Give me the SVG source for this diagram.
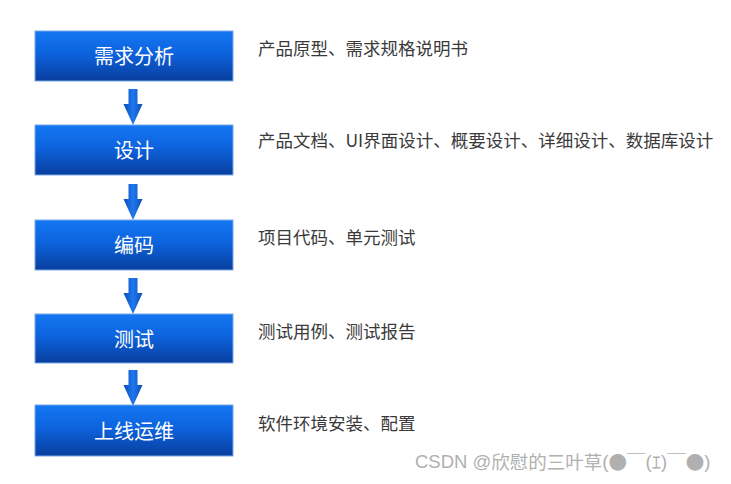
<svg xmlns="http://www.w3.org/2000/svg" width="731" height="484" viewBox="0 0 731 484">
<defs>
<linearGradient id="boxg" x1="0" y1="0" x2="0" y2="1">
<stop offset="0" stop-color="#1577f2"/>
<stop offset="0.45" stop-color="#0d63de"/>
<stop offset="1" stop-color="#083e9e"/>
</linearGradient>
<linearGradient id="arrg" x1="0" y1="0" x2="1" y2="0">
<stop offset="0" stop-color="#0a4cb8"/>
<stop offset="0.5" stop-color="#1f78ee"/>
<stop offset="1" stop-color="#0a4cb8"/>
</linearGradient>
<path id="arr" d="M-4.5,0 H4.5 V15 H9.5 L0,36 L-9.5,15 H-4.5 Z"/>
</defs>
<style>
.box{fill:url(#boxg);stroke:#7aa8e8;stroke-width:1}
.lbl{font-family:"Noto Sans CJK SC","Noto Sans",sans-serif;font-size:20px;fill:#ffffff;text-anchor:middle;dominant-baseline:central}
.desc{font-family:"Noto Sans CJK SC","Noto Sans",sans-serif;font-size:17.5px;fill:#3a3a3a;dominant-baseline:central}
.wm{font-family:"Liberation Sans","Noto Sans CJK SC",sans-serif;font-size:18.5px;fill:#b0b0b0;dominant-baseline:central}
.cjk{font-family:"Noto Sans CJK SC",sans-serif}
.arrow{fill:url(#arrg)}
</style>
<rect width="731" height="484" fill="#ffffff"/>
<g id="connectors">
<use href="#arr" class="arrow" x="133" y="89"/>
<use href="#arr" class="arrow" x="133" y="184"/>
<use href="#arr" class="arrow" x="133" y="278"/>
<use href="#arr" class="arrow" x="133" y="370"/>
</g>
<g id="n1"><rect class="box" x="35" y="31" width="198" height="50"/><text class="lbl" x="134" y="55">需求分析</text></g>
<g id="n2"><rect class="box" x="35" y="125" width="198" height="50"/><text class="lbl" x="134" y="149">设计</text></g>
<g id="n3"><rect class="box" x="35" y="220" width="198" height="50"/><text class="lbl" x="134" y="244">编码</text></g>
<g id="n4"><rect class="box" x="35" y="314" width="198" height="49"/><text class="lbl" x="134" y="338">测试</text></g>
<g id="n5"><rect class="box" x="35" y="405" width="198" height="51"/><text class="lbl" x="134" y="430">上线运维</text></g>
<g id="descs">
<text class="desc" x="258" y="47.5">产品原型、需求规格说明书</text>
<text class="desc" x="258" y="139">产品文档、UI界面设计、概要设计、详细设计、数据库设计</text>
<text class="desc" x="258" y="236">项目代码、单元测试</text>
<text class="desc" x="258" y="330">测试用例、测试报告</text>
<text class="desc" x="258" y="422">软件环境安装、配置</text>
</g>
<text class="wm" x="415" y="461">CSDN @<tspan class="cjk">欣慰的三叶草</tspan>(<tspan class="cjk">●￣</tspan>(<tspan class="cjk">ｴ</tspan>)<tspan class="cjk">￣●</tspan>)</text>
</svg>
